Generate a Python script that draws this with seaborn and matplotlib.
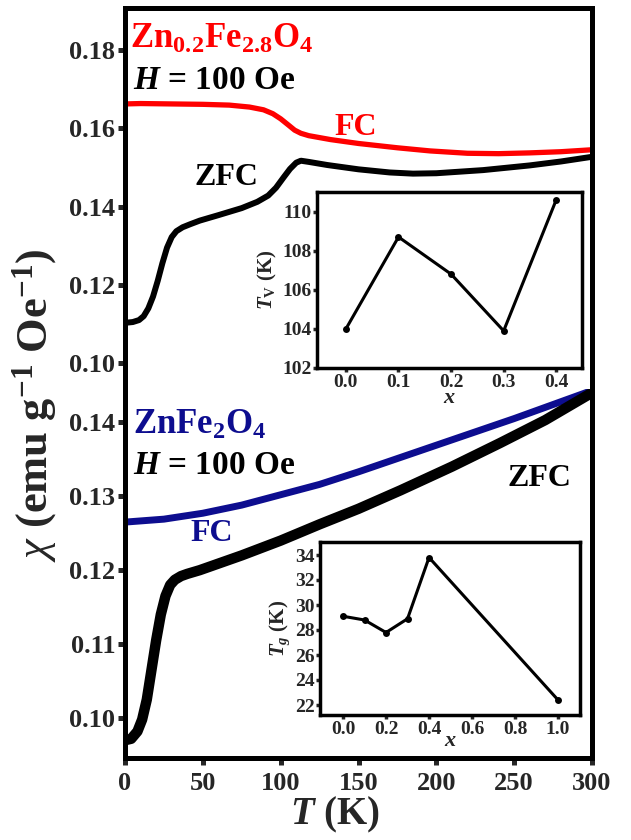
import numpy as np
import pandas as pd
import matplotlib
matplotlib.use("Agg")
import matplotlib.pyplot as plt
import seaborn as sns


# ---------------- DATA ----------------
# Zn0.2Fe2.8O4, H = 100 Oe
zn02_fc_T = [0, 10, 30, 50, 67, 80, 89, 95, 100, 105, 109, 113, 118, 125, 132,
             150, 175, 196, 220, 240, 260, 280, 300]
zn02_fc_chi = [0.1662, 0.1663, 0.1662, 0.1661, 0.1659, 0.1654, 0.1647, 0.1637,
               0.1624, 0.1608, 0.1595, 0.1587, 0.1581, 0.1576, 0.1571, 0.1561,
               0.1550, 0.1542, 0.1536, 0.1535, 0.1537, 0.1540, 0.1545]

zn02_zfc_T = [0, 5, 9, 12, 15, 18, 21, 24, 27, 30, 33, 37, 42, 48, 60, 75, 85,
              92, 97, 102, 106, 110, 113, 118, 130, 150, 170, 185, 200, 230,
              260, 280, 300]
zn02_zfc_chi = [0.1103, 0.1105, 0.1110, 0.1120, 0.1140, 0.1170, 0.1210, 0.1255,
                0.1295, 0.1322, 0.1337, 0.1347, 0.1355, 0.1364, 0.1378, 0.1396,
                0.1412, 0.1428, 0.1448, 0.1475, 0.1496, 0.1512, 0.1517, 0.1514,
                0.1506, 0.1495, 0.1487, 0.1484, 0.1485, 0.1493, 0.1505, 0.1515,
                0.1527]

# ZnFe2O4, H = 100 Oe
znfe_fc_T = [0, 25, 50, 75, 100, 125, 150, 175, 200, 225, 250, 275, 300]
znfe_fc_chi = [0.1265, 0.1269, 0.1277, 0.1288, 0.1302, 0.1316, 0.1333, 0.1351,
               0.1369, 0.1387, 0.1405, 0.1424, 0.1443]

znfe_zfc_T = [0, 4, 8, 11, 14, 17, 20, 23, 26, 29, 32, 36, 40, 48, 75, 100,
              125, 150, 177, 210, 241, 270, 300]
znfe_zfc_chi = [0.0970, 0.0972, 0.0982, 0.0998, 0.1025, 0.1065, 0.1105, 0.1140,
                0.1165, 0.1180, 0.1187, 0.1192, 0.1195, 0.1200, 0.1220, 0.1240,
                0.1262, 0.1283, 0.1308, 0.1340, 0.1372, 0.1403, 0.1440]

# insets
tv_x = [0.0, 0.1, 0.2, 0.3, 0.4]
tv_K = [104.0, 108.7, 106.8, 103.9, 110.6]

tg_x = [0.0, 0.1, 0.2, 0.3, 0.4, 1.0]
tg_K = [29.1, 28.8, 27.8, 28.9, 33.8, 22.4]

T_ticks = [0, 50, 100, 150, 200, 250, 300]
top_ticks = [0.10, 0.12, 0.14, 0.16, 0.18]
bot_ticks = [0.10, 0.11, 0.12, 0.13, 0.14]

RED = "#ff0000"
BLUE = "#0d0d8f"

# ---------------- STYLE ----------------
sns.set_theme(style="ticks")
plt.rcParams["font.family"] = ["Liberation Serif", "DejaVu Serif"]
plt.rcParams["mathtext.fontset"] = "custom"
plt.rcParams["mathtext.rm"] = "Liberation Serif"
plt.rcParams["mathtext.it"] = "Liberation Serif:italic"
plt.rcParams["mathtext.bf"] = "Liberation Serif:bold"
plt.rcParams["mathtext.bfit"] = "Liberation Serif:bold:italic"
plt.rcParams["axes.facecolor"] = "white"
plt.rcParams["lines.solid_joinstyle"] = "round"
plt.rcParams["lines.solid_capstyle"] = "round"

W, H = 631, 840
fig = plt.figure(figsize=(W / 100, H / 100), dpi=100)


def px_axes(l, r, t, b):
    return fig.add_axes([l / W, 1 - b / H, (r - l) / W, (b - t) / H])


def style_main(ax, yticks, ylim, show_top, show_bottom):
    ax.set_xlim(0, 300)
    ax.set_ylim(*ylim)
    ax.set_yticks(yticks)
    ax.set_yticklabels([f"{v:.2f}" for v in yticks], fontsize=19, fontweight="bold")
    ax.set_xticks(T_ticks)
    for side in ["left", "right", "top", "bottom"]:
        ax.spines[side].set_linewidth(3.6)
        ax.spines[side].set_color("black")
    ax.spines["top"].set_visible(show_top)
    ax.spines["bottom"].set_visible(show_bottom)
    ax.tick_params(axis="y", direction="out", length=5, width=3.6, pad=2)
    if show_bottom:
        ax.tick_params(axis="x", direction="out", length=5, width=3.6, pad=5)
        ax.set_xticklabels([str(t) for t in T_ticks], fontsize=19, fontweight="bold")
    else:
        ax.tick_params(axis="x", bottom=False, labelbottom=False)
    ax.set_xlabel("")
    ax.set_ylabel("")


def style_inset(ax, xlim, xticks, ylim, yticks, ylabel, xpad):
    ax.set_xlim(*xlim)
    ax.set_ylim(*ylim)
    ax.set_xticks(xticks)
    ax.set_xticklabels([f"{v:.1f}" for v in xticks], fontsize=14, fontweight="bold")
    ax.set_yticks(yticks)
    ax.set_yticklabels([str(v) for v in yticks], fontsize=14, fontweight="bold")
    for side in ax.spines:
        ax.spines[side].set_linewidth(2.5)
        ax.spines[side].set_color("black")
    ax.tick_params(direction="out", length=3, width=2.5, pad=1)
    ax.set_xlabel("$\\mathbfit{x}$", fontsize=16, labelpad=xpad)
    ax.set_ylabel(ylabel, fontsize=15, fontweight="bold", labelpad=2)


# ---------------- UPPER PANEL ----------------
ax1 = px_axes(125, 592, 8, 389)
sns.lineplot(x=zn02_fc_T, y=zn02_fc_chi, ax=ax1, color=RED, lw=3.8,
             sort=False, estimator=None)
sns.lineplot(x=zn02_zfc_T, y=zn02_zfc_chi, ax=ax1, color="black", lw=4.3,
             sort=False, estimator=None)
style_main(ax1, top_ticks, (0.0934, 0.1907), True, False)

ax1.text(3, 0.1828, "Zn$_{\\mathbf{0.2}}$Fe$_{\\mathbf{2.8}}$O$_{\\mathbf{4}}$",
         color=RED, fontsize=25, fontweight="bold", ha="left", va="center")
ax1.text(5, 0.1723, "$\\mathbfit{H}$ = 100 Oe", color="black", fontsize=24,
         fontweight="bold", ha="left", va="center")
ax1.text(148, 0.1601, "FC", color=RED, fontsize=23, fontweight="bold",
         ha="center", va="center")
ax1.text(65, 0.1473, "ZFC", color="black", fontsize=23, fontweight="bold",
         ha="center", va="center")

# ---------------- LOWER PANEL ----------------
ax2 = px_axes(125, 592, 389, 758)
sns.lineplot(x=znfe_fc_T, y=znfe_fc_chi, ax=ax2, color=BLUE, lw=5.0,
             sort=False, estimator=None)
sns.lineplot(x=znfe_zfc_T, y=znfe_zfc_chi, ax=ax2, color="black", lw=7.5,
             sort=False, estimator=None)
style_main(ax2, bot_ticks, (0.0946, 0.1445), False, True)

ax2.text(5, 0.1396, "ZnFe$_{\\mathbf{2}}$O$_{\\mathbf{4}}$", color=BLUE,
         fontsize=25, fontweight="bold", ha="left", va="center")
ax2.text(5, 0.1342, "$\\mathbfit{H}$ = 100 Oe", color="black", fontsize=24,
         fontweight="bold", ha="left", va="center")
ax2.text(56, 0.1250, "FC", color=BLUE, fontsize=23, fontweight="bold",
         ha="center", va="center")
ax2.text(266, 0.1324, "ZFC", color="black", fontsize=23, fontweight="bold",
         ha="center", va="center")

# ---------------- INSETS ----------------
in1 = px_axes(317, 582, 192, 368)
sns.lineplot(x=tv_x, y=tv_K, ax=in1, color="black", lw=2.2, marker="o",
             markersize=5, markeredgewidth=0, sort=False, estimator=None)
style_inset(in1, (-0.055, 0.449), [0.0, 0.1, 0.2, 0.3, 0.4],
            (102, 111.0), [102, 104, 106, 108, 110],
            "$\\mathbfit{T}_\\mathbf{V}$ (K)", -1)

in2 = px_axes(320, 580, 542, 715)
sns.lineplot(x=tg_x, y=tg_K, ax=in2, color="black", lw=2.2, marker="o",
             markersize=5, markeredgewidth=0, sort=False, estimator=None)
style_inset(in2, (-0.107, 1.102), [0.0, 0.2, 0.4, 0.6, 0.8, 1.0],
            (21.2, 35.04), [22, 24, 26, 28, 30, 32, 34],
            "$\\mathbfit{T}_\\mathbfit{g}$ (K)", -4)

# ---------------- AXIS LABELS ----------------
fig.text(35 / W, 1 - 405 / H, "$\\chi$ (emu g$^{\\mathbf{-1}}$ Oe$^{\\mathbf{-1}}$)",
         rotation=90, fontsize=32, fontweight="bold", ha="center", va="center")
fig.text(335 / W, 1 - 815 / H, "$\\mathbfit{T}$ (K)", fontsize=28,
         fontweight="bold", ha="center", va="center")

fig.savefig("out.png", dpi=100, facecolor="white")
